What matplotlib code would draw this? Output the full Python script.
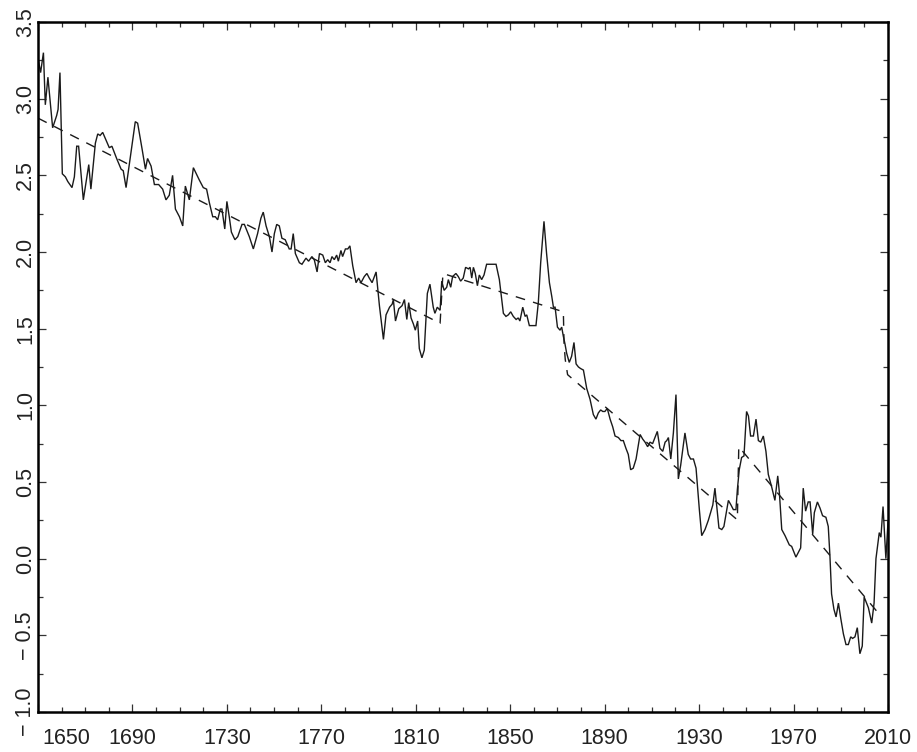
import matplotlib
matplotlib.use("Agg")
import matplotlib.pyplot as plt
import matplotlib.transforms as mtransforms
from matplotlib.ticker import FixedLocator, MultipleLocator

# ---- data ----
years = [1650.3, 1651.1, 1652.3, 1653.1, 1654.2, 1656.2, 1657.9, 1658.5, 1659.3, 1660.3,
         1661.6, 1662.6, 1664.4, 1665.4, 1666.4, 1667.2, 1669.2, 1671.5, 1672.4, 1674.3,
         1675.3, 1676.3, 1677.4, 1680.2, 1681.3, 1683.3, 1685.2, 1686.1, 1687.3, 1689.4,
         1691.2, 1692.2, 1694.1, 1695.5, 1696.4, 1697.9, 1699.3, 1701.1, 1702.8, 1704.2,
         1705.6, 1707.0, 1708.2, 1709.9, 1711.3, 1712.4, 1714.1, 1715.8, 1718.3, 1720.0,
         1721.4, 1722.6, 1724.0, 1725.1, 1726.1, 1727.2, 1727.9, 1729.1, 1730.0, 1731.0,
         1731.9, 1733.4, 1734.6, 1736.4, 1737.4, 1739.5, 1741.2, 1743.0, 1744.4, 1745.4,
         1746.6, 1748.0, 1749.1, 1750.1, 1751.1, 1752.2, 1753.3, 1754.7, 1756.4, 1757.2,
         1758.1, 1759.0, 1760.7, 1761.8, 1763.5, 1764.6, 1766.0, 1767.0, 1768.2, 1769.2,
         1770.6, 1771.7, 1772.7, 1773.7, 1774.5, 1775.5, 1776.5, 1777.2, 1778.3, 1779.0,
         1780.2, 1781.2, 1782.1, 1783.3, 1784.7, 1785.8, 1786.8, 1788.2, 1789.3, 1790.3,
         1791.5, 1793.2, 1794.6, 1796.3, 1797.4, 1798.9, 1800.0, 1800.5, 1801.4, 1802.8,
         1804.2, 1805.2, 1806.2, 1807.0, 1808.0, 1809.0, 1809.8, 1810.8, 1811.5, 1812.6,
         1813.6, 1814.9, 1816.0, 1817.4, 1818.1, 1819.1, 1820.3, 1821.0, 1822.0, 1823.1,
         1823.8, 1824.8, 1825.6, 1827.0, 1828.0, 1829.0, 1830.1, 1831.1, 1832.3, 1833.0,
         1833.7, 1834.4, 1835.2, 1836.1, 1836.9, 1837.9, 1838.9, 1840.0, 1841.4, 1842.8,
         1844.0, 1845.4, 1847.1, 1848.2, 1849.2, 1850.2, 1851.3, 1852.5, 1853.4, 1854.1,
         1855.3, 1856.3, 1857.0, 1858.1, 1859.1, 1860.1, 1860.9, 1861.9, 1862.9, 1864.3,
         1865.4, 1866.6, 1867.6, 1868.3, 1869.0, 1870.0, 1871.1, 1871.8, 1872.5, 1873.2,
         1873.9, 1875.0, 1876.0, 1877.0, 1877.9, 1878.9, 1879.8, 1881.0, 1882.4, 1883.8,
         1885.2, 1886.3, 1887.3, 1888.3, 1889.2, 1890.1, 1891.1, 1892.3, 1893.4, 1894.4,
         1895.8, 1896.9, 1897.9, 1899.0, 1900.0, 1901.0, 1902.1, 1903.3, 1905.0, 1906.1,
         1907.1, 1908.2, 1909.2, 1910.3, 1911.3, 1912.3, 1913.4, 1914.6, 1915.6, 1916.3,
         1917.0, 1918.0, 1919.1, 1920.2, 1921.2, 1922.2, 1924.0, 1925.4, 1926.4, 1927.6,
         1928.7, 1930.1, 1931.1, 1932.5, 1933.9, 1935.8, 1936.7, 1937.4, 1938.4, 1939.6,
         1940.5, 1942.4, 1943.5, 1944.5, 1945.6, 1946.2, 1947.0, 1948.0, 1949.0, 1950.1,
         1950.9, 1951.8, 1953.0, 1954.1, 1955.1, 1956.1, 1957.2, 1958.3, 1959.3, 1960.7,
         1962.1, 1963.3, 1964.0, 1965.0, 1966.4, 1968.2, 1969.2, 1971.0, 1973.0, 1974.1,
         1975.1, 1976.2, 1977.0, 1978.1, 1978.8, 1980.1, 1981.2, 1982.3, 1983.7, 1984.7,
         1985.4, 1986.1, 1987.1, 1988.0, 1989.0, 1990.0, 1991.1, 1992.2, 1993.2, 1994.2,
         1995.0, 1996.0, 1997.0, 1998.1, 1999.1, 1999.9, 2001.7, 2003.1, 2004.1, 2004.9,
         2006.3, 2007.0, 2007.9, 2009.1, 2010.0]

values = [3.24, 3.17, 3.30, 2.96, 3.14, 2.81, 2.89, 2.93, 3.17, 2.51,
          2.49, 2.46, 2.42, 2.49, 2.69, 2.69, 2.34, 2.57, 2.41, 2.71,
          2.77, 2.76, 2.78, 2.68, 2.69, 2.61, 2.54, 2.53, 2.42, 2.65,
          2.85, 2.84, 2.67, 2.54, 2.61, 2.56, 2.44, 2.44, 2.41, 2.34,
          2.37, 2.50, 2.28, 2.23, 2.17, 2.43, 2.34, 2.55, 2.47, 2.42,
          2.41, 2.32, 2.23, 2.23, 2.21, 2.28, 2.28, 2.15, 2.33, 2.23,
          2.13, 2.08, 2.10, 2.18, 2.18, 2.10, 2.02, 2.12, 2.22, 2.26,
          2.17, 2.10, 2.00, 2.12, 2.18, 2.17, 2.09, 2.08, 2.02, 2.02,
          2.12, 1.99, 1.93, 1.92, 1.96, 1.94, 1.97, 1.95, 1.87, 1.99,
          1.98, 1.93, 1.95, 1.93, 1.97, 1.95, 1.98, 1.94, 2.01, 1.97,
          2.02, 2.02, 2.04, 1.91, 1.80, 1.83, 1.80, 1.84, 1.86, 1.83,
          1.80, 1.87, 1.65, 1.43, 1.59, 1.64, 1.66, 1.69, 1.55, 1.63,
          1.65, 1.69, 1.56, 1.67, 1.57, 1.53, 1.49, 1.55, 1.37, 1.31,
          1.36, 1.73, 1.79, 1.64, 1.60, 1.64, 1.62, 1.81, 1.75, 1.77,
          1.82, 1.77, 1.84, 1.86, 1.84, 1.81, 1.83, 1.90, 1.89, 1.90,
          1.83, 1.90, 1.86, 1.78, 1.85, 1.82, 1.85, 1.92, 1.92, 1.92,
          1.92, 1.82, 1.60, 1.58, 1.59, 1.61, 1.58, 1.56, 1.57, 1.55,
          1.64, 1.58, 1.59, 1.52, 1.52, 1.52, 1.52, 1.67, 1.93, 2.20,
          1.99, 1.80, 1.71, 1.64, 1.64, 1.51, 1.49, 1.51, 1.45, 1.40,
          1.34, 1.28, 1.32, 1.41, 1.27, 1.25, 1.24, 1.23, 1.11, 1.04,
          0.94, 0.91, 0.95, 0.97, 0.96, 0.96, 0.98, 0.91, 0.86, 0.80,
          0.79, 0.77, 0.77, 0.72, 0.68, 0.58, 0.59, 0.65, 0.81, 0.78,
          0.76, 0.73, 0.76, 0.75, 0.79, 0.83, 0.72, 0.70, 0.76, 0.77,
          0.79, 0.65, 0.82, 1.07, 0.52, 0.61, 0.82, 0.68, 0.65, 0.65,
          0.59, 0.32, 0.15, 0.19, 0.25, 0.35, 0.46, 0.35, 0.20, 0.19,
          0.21, 0.38, 0.35, 0.32, 0.32, 0.45, 0.58, 0.66, 0.67, 0.96,
          0.93, 0.80, 0.80, 0.91, 0.77, 0.76, 0.80, 0.70, 0.55, 0.47,
          0.38, 0.54, 0.43, 0.19, 0.15, 0.09, 0.08, 0.01, 0.07, 0.46,
          0.31, 0.37, 0.37, 0.16, 0.30, 0.37, 0.33, 0.28, 0.27, 0.21,
          0.02, -0.23, -0.33, -0.38, -0.29, -0.39, -0.49, -0.56, -0.56, -0.51,
          -0.52, -0.51, -0.45, -0.62, -0.57, -0.25, -0.32, -0.42, -0.29, 0.00,
          0.17, 0.14, 0.34, 0.00, 0.24]

trend_years = [1650.0, 1820.3, 1821.5, 1872.5, 1872.8, 1873.3, 1874.3, 1946.2, 1946.8, 2007.0]
trend_values = [2.873, 1.535, 1.860, 1.610, 1.400, 1.300, 1.200, 0.253, 0.730, -0.375]

x_major = [1650, 1690, 1730, 1770, 1810, 1850, 1890, 1930, 1970, 2010]
x_labels = ["1650", "1690", "1730", "1770", "1810", "1850", "1890", "1930", "1970", "2010"]
y_major = [-1.0, -0.5, 0.0, 0.5, 1.0, 1.5, 2.0, 2.5, 3.0, 3.5]
y_labels = ["\u2212 1.0", "\u2212 0.5", "0.0", "0.5", "1.0", "1.5", "2.0", "2.5", "3.0", "3.5"]

plt.rcParams['font.family'] = ['Liberation Sans', 'DejaVu Sans']

fig = plt.figure(figsize=(9.17, 7.52), dpi=100)
ax = fig.add_axes([38 / 917, 40 / 752, 850 / 917, 690 / 752])

ax.plot(years, values, color='#1a1a1a', lw=1.0, solid_joinstyle='miter')
ax.plot(trend_years, trend_values, color='#1a1a1a', lw=1.0, linestyle=(0, (7, 6)))

ax.set_xlim(1650, 2010)
ax.set_ylim(-1.0, 3.5)

ax.xaxis.set_major_locator(FixedLocator(x_major))
ax.set_xticklabels(x_labels)
ax.xaxis.set_minor_locator(MultipleLocator(10))
ax.yaxis.set_major_locator(FixedLocator(y_major))
ax.set_yticklabels(y_labels)
ax.yaxis.set_minor_locator(MultipleLocator(0.25))

ax.tick_params(which='both', direction='in', top=True, right=True, color='#333333', width=0.9)
ax.tick_params(which='major', length=5.5)
ax.tick_params(which='minor', length=3.8)
ax.tick_params(axis='x', which='major', labelsize=15.5, pad=11.5, labelcolor='#222222')
ax.tick_params(axis='y', which='major', labelsize=15.5, pad=1.5, labelcolor='#222222')

for lab in ax.get_yticklabels():
    lab.set_rotation(90)
    lab.set_va('center')
    lab.set_ha('right')

# first x label is shifted inside the axis like the reference
first = ax.get_xticklabels()[0]
first.set_ha('left')
first.set_transform(first.get_transform() + mtransforms.ScaledTranslation(0.04, 0, fig.dpi_scale_trans))

for s in ax.spines.values():
    s.set_linewidth(1.8)
    s.set_color('black')

fig.savefig("out.png", dpi=100)
